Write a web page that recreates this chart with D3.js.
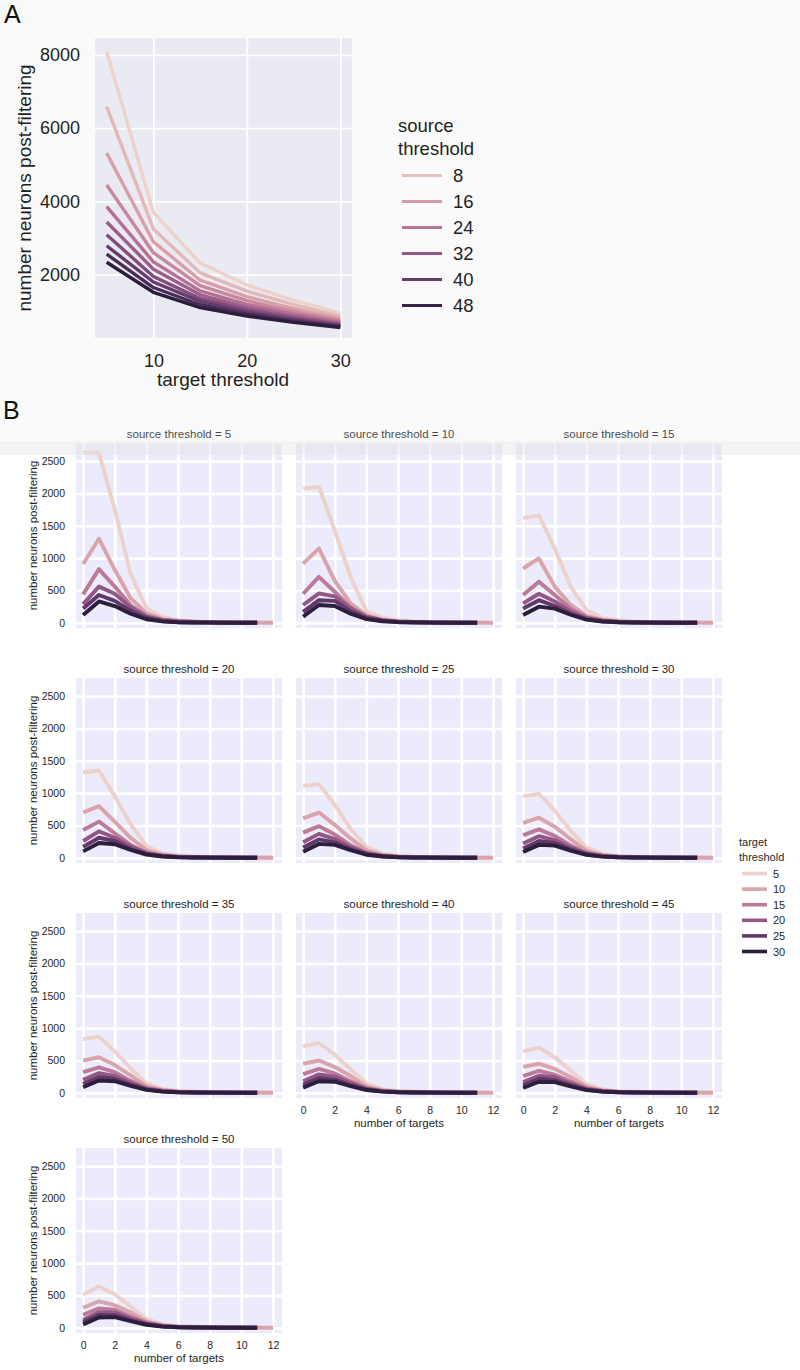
<!DOCTYPE html>
<html><head><meta charset="utf-8">
<script src="https://cdn.jsdelivr.net/npm/d3@7"></script>
<style>body{margin:0;background:#fff}</style>
</head><body><svg id="c" width="800" height="1370" xmlns="http://www.w3.org/2000/svg"></svg>
<script>
// ---------------- DATA ----------------
// Panel A: x = target threshold, one line per source threshold
const targetThresholdsA = [5, 10, 15, 20, 25, 30];
const sourceThresholds = [5, 10, 15, 20, 25, 30, 35, 40, 45, 50];
const neuronsA_st5  = [8090, 3700, 2320, 1720, 1300, 950];
const neuronsA_st10 = [6590, 3250, 2050, 1550, 1180, 870];
const neuronsA_st15 = [5320, 2900, 1850, 1400, 1070, 800];
const neuronsA_st20 = [4450, 2600, 1700, 1290, 990, 750];
const neuronsA_st25 = [3860, 2350, 1560, 1190, 920, 710];
const neuronsA_st30 = [3440, 2150, 1450, 1110, 860, 670];
const neuronsA_st35 = [3090, 1950, 1350, 1040, 810, 640];
const neuronsA_st40 = [2790, 1800, 1270, 980, 770, 610];
const neuronsA_st45 = [2560, 1650, 1180, 920, 730, 585];
const neuronsA_st50 = [2340, 1520, 1100, 870, 700, 560];
const panelA = [neuronsA_st5, neuronsA_st10, neuronsA_st15, neuronsA_st20, neuronsA_st25,
                neuronsA_st30, neuronsA_st35, neuronsA_st40, neuronsA_st45, neuronsA_st50];
const legendTicksA = [8, 16, 24, 32, 40, 48];
const xTicksA = [10, 20, 30];
const yTicksA = [2000, 4000, 6000, 8000];

// Panel B: x = number of targets (0,1,2,...), one line per target threshold, one facet per source threshold
const targetThresholds = [5, 10, 15, 20, 25, 30];
const facet_st5 = [
  [2630, 2630, 1750, 760, 230, 90, 45, 25, 15, 10, 6, 4, 2],
  [910, 1300, 820, 380, 150, 60, 30, 18, 11, 7, 5, 3, 2],
  [440, 830, 560, 270, 110, 48, 24, 14, 9, 6, 4, 3],
  [290, 560, 450, 240, 95, 42, 20, 12, 8, 5, 3, 2],
  [220, 430, 340, 185, 75, 25, 10, 6, 4, 3, 2, 1],
  [120, 330, 260, 140, 55, 23, 10, 5, 3, 2, 1, 1]];
const facet_st10 = [
  [2075, 2100, 1430, 710, 180, 80, 40, 22, 14, 9, 6, 4, 2],
  [915, 1150, 650, 300, 120, 50, 25, 15, 10, 6, 4, 3, 2],
  [450, 710, 480, 240, 95, 42, 21, 12, 8, 5, 3, 2],
  [275, 455, 410, 225, 90, 40, 19, 11, 7, 5, 3, 2],
  [170, 350, 340, 180, 75, 32, 14, 8, 5, 3, 2, 1],
  [95, 275, 260, 140, 57, 24, 10, 5, 3, 2, 1, 1]];
const facet_st15 = [
  [1620, 1660, 1150, 560, 200, 75, 38, 22, 14, 9, 6, 4, 2],
  [840, 995, 560, 280, 110, 48, 24, 14, 9, 6, 4, 3, 2],
  [430, 635, 430, 220, 85, 38, 19, 11, 7, 5, 3, 2],
  [300, 450, 330, 180, 75, 34, 16, 9, 6, 4, 3, 2],
  [220, 350, 260, 140, 58, 24, 10, 6, 4, 3, 2, 1],
  [120, 250, 220, 125, 50, 21, 9, 5, 3, 2, 1, 1]];
const facet_st20 = [
  [1320, 1350, 950, 520, 180, 70, 35, 20, 13, 9, 6, 4, 2],
  [700, 800, 560, 310, 120, 50, 24, 14, 9, 6, 4, 3, 2],
  [430, 560, 380, 200, 80, 35, 17, 10, 7, 5, 3, 2],
  [260, 410, 310, 175, 73, 32, 15, 9, 6, 4, 3, 2],
  [170, 310, 260, 140, 60, 26, 11, 6, 4, 3, 2, 1],
  [100, 230, 210, 122, 50, 21, 9, 5, 3, 2, 1, 1]];
const facet_st25 = [
  [1110, 1140, 820, 450, 170, 65, 32, 19, 12, 8, 5, 3, 2],
  [610, 700, 510, 300, 115, 48, 23, 14, 9, 6, 4, 3, 2],
  [390, 490, 360, 195, 78, 34, 16, 10, 6, 4, 3, 2],
  [240, 370, 290, 165, 70, 30, 14, 8, 5, 4, 3, 2],
  [160, 285, 240, 135, 57, 24, 10, 6, 4, 3, 2, 1],
  [95, 215, 200, 118, 48, 20, 8, 5, 3, 2, 1, 1]];
const facet_st30 = [
  [950, 990, 730, 420, 160, 62, 30, 18, 12, 8, 5, 3, 2],
  [540, 620, 480, 290, 110, 46, 22, 13, 9, 6, 4, 3, 2],
  [350, 440, 340, 190, 76, 33, 16, 10, 6, 4, 3, 2],
  [220, 335, 275, 160, 68, 29, 14, 8, 5, 4, 3, 2],
  [145, 260, 230, 130, 55, 23, 10, 6, 4, 3, 2, 1],
  [90, 200, 190, 112, 46, 19, 8, 5, 3, 2, 1, 1]];
const facet_st35 = [
  [830, 870, 640, 380, 150, 60, 30, 18, 11, 8, 5, 3, 2],
  [500, 550, 430, 270, 105, 44, 21, 13, 8, 5, 4, 3, 2],
  [320, 395, 320, 185, 74, 32, 15, 9, 6, 4, 3, 2],
  [200, 305, 260, 155, 66, 28, 13, 8, 5, 4, 3, 2],
  [135, 245, 215, 125, 53, 22, 9, 5, 4, 3, 2, 1],
  [85, 190, 180, 108, 45, 19, 8, 4, 3, 2, 1, 1]];
const facet_st40 = [
  [720, 770, 590, 360, 145, 58, 28, 17, 11, 7, 5, 3, 2],
  [450, 500, 400, 260, 100, 42, 20, 12, 8, 5, 4, 3, 2],
  [290, 370, 300, 180, 72, 31, 15, 9, 6, 4, 3, 2],
  [180, 285, 250, 150, 64, 27, 13, 8, 5, 4, 3, 2],
  [125, 230, 205, 120, 52, 22, 9, 5, 4, 3, 2, 1],
  [80, 180, 172, 104, 43, 18, 8, 4, 3, 2, 1, 1]];
const facet_st45 = [
  [640, 700, 550, 340, 140, 55, 27, 16, 10, 7, 5, 3, 2],
  [400, 450, 370, 245, 95, 40, 19, 12, 8, 5, 4, 3, 2],
  [260, 340, 280, 175, 70, 30, 15, 9, 6, 4, 3, 2],
  [165, 265, 240, 145, 62, 26, 12, 7, 5, 4, 3, 2],
  [115, 218, 195, 117, 50, 21, 9, 5, 4, 3, 2, 1],
  [75, 172, 165, 100, 42, 18, 8, 4, 3, 2, 1, 1]];
const facet_st50 = [
  [515, 640, 520, 330, 135, 55, 27, 16, 10, 7, 5, 3, 2],
  [310, 410, 350, 240, 100, 42, 20, 12, 8, 5, 4, 3, 2],
  [200, 300, 280, 175, 80, 32, 15, 9, 6, 4, 3, 2],
  [120, 240, 235, 145, 70, 28, 13, 7, 5, 4, 3, 2],
  [85, 200, 195, 120, 55, 23, 10, 5, 4, 3, 2, 1],
  [50, 160, 165, 105, 47, 19, 8, 4, 3, 2, 1, 1]];
const facets = [facet_st5, facet_st10, facet_st15, facet_st20, facet_st25,
                facet_st30, facet_st35, facet_st40, facet_st45, facet_st50];
const xTicksB = [0, 2, 4, 6, 8, 10, 12];
const yTicksB = [0, 500, 1000, 1500, 2000, 2500];

// ---------------- HELPERS ----------------
const FONT = "'Liberation Sans', Arial, Helvetica, sans-serif";
const TXT = "#1f1f1f";
// seaborn cubehelix_palette(as_cmap=True): start=0, rot=.4, gamma=1, hue=.8, light=.85, dark=.15
function helix(v, lo, hi) {
  const t = (v - lo) / (hi - lo);
  const x = 0.85 + (0.15 - 0.85) * t;
  const a = 0.8 * x * (1 - x) / 2;
  const phi = 2 * Math.PI * (0.4 * x);
  const c = Math.cos(phi), s = Math.sin(phi);
  const cl = u => Math.max(0, Math.min(1, u)) * 255;
  const r = x + a * (-0.14861 * c + 1.78277 * s);
  const g = x + a * (-0.29227 * c - 0.90649 * s);
  const b = x + a * (1.97294 * c);
  return d3.rgb(cl(r), cl(g), cl(b)).formatHex();
}

const svg = d3.select("#c");
svg.append("rect").attr("width", 800).attr("height", 1370).attr("fill", "#fff");

// ---------------- PANEL B ----------------
const gB = svg.append("g");
const colLeft = [76, 296, 516], rowTop = 443, rowStep = 235, W = 206, H = 185;
facets.forEach((facet, i) => {
  const col = i % 3, row = Math.floor(i / 3);
  const L = colLeft[col], T = rowTop + rowStep * row;
  const x = d3.scaleLinear().domain([-0.45, 12.57]).range([L, L + W]);
  const y = d3.scaleLinear().domain([-80, 2780]).range([T + H, T]);
  const g = gB.append("g");
  g.append("rect").attr("x", L).attr("y", T).attr("width", W).attr("height", H).attr("fill", "#ebebfb");
  const ya = g.append("g").attr("transform", `translate(${L},0)`)
    .call(d3.axisLeft(y).tickValues(yTicksB).tickSize(-W).tickPadding(11).tickFormat(d3.format("d")));
  const xa = g.append("g").attr("transform", `translate(0,${T + H})`)
    .call(d3.axisBottom(x).tickValues(xTicksB).tickSize(-H).tickPadding(9).tickFormat(d3.format("d")));
  [ya, xa].forEach(a => {
    a.select(".domain").remove();
    a.selectAll("line").attr("stroke", "#fff").attr("stroke-width", 2.6);
    a.selectAll("text").attr("fill", TXT).style("font-family", FONT).style("font-size", "10.5px");
  });
  if (col !== 0) ya.selectAll("text").remove();
  const showX = (i >= 7);
  if (!showX) xa.selectAll("text").remove();
  const line = d3.line().x((d, k) => x(k)).y(d => y(d));
  facet.forEach((vals, j) => {
    g.append("path").datum(vals).attr("d", line).attr("fill", "none")
      .attr("stroke", helix(targetThresholds[j], 5, 30)).attr("stroke-width", 3.9)
      .attr("stroke-linejoin", "round");
  });
  g.append("text").attr("x", L + W / 2).attr("y", T - 5).attr("text-anchor", "middle")
    .attr("fill", TXT).style("font-family", FONT).style("font-size", "11.5px")
    .text(`source threshold = ${sourceThresholds[i]}`);
  if (col === 0) {
    g.append("text").attr("transform", `translate(37,${T + H / 2}) rotate(-90)`)
      .attr("text-anchor", "middle").attr("fill", TXT).style("font-family", FONT).style("font-size", "11.5px")
      .text("number neurons post-filtering");
  }
  if (showX) {
    g.append("text").attr("x", L + W / 2).attr("y", T + H + 29).attr("text-anchor", "middle")
      .attr("fill", TXT).style("font-family", FONT).style("font-size", "11.5px").text("number of targets");
  }
});
// legend B
const lgB = gB.append("g");
lgB.append("text").attr("x", 739).attr("y", 846).attr("fill", TXT).style("font-family", FONT).style("font-size", "11px").text("target");
lgB.append("text").attr("x", 739).attr("y", 861).attr("fill", TXT).style("font-family", FONT).style("font-size", "11px").text("threshold");
targetThresholds.forEach((t, j) => {
  const cy = 873.5 + 15.6 * j;
  lgB.append("line").attr("x1", 742).attr("x2", 767).attr("y1", cy).attr("y2", cy)
    .attr("stroke", helix(t, 5, 30)).attr("stroke-width", 3.6);
  lgB.append("text").attr("x", 773).attr("y", cy + 4).attr("fill", TXT)
    .style("font-family", FONT).style("font-size", "11px").text(t);
});

// faint grey band of the top figure image over the upper area
svg.append("rect").attr("x", 0).attr("y", 0).attr("width", 800).attr("height", 455)
  .attr("fill", "#e6e6e6").attr("opacity", 0.2);
svg.append("rect").attr("x", 0).attr("y", 441).attr("width", 800).attr("height", 14)
  .attr("fill", "#e6e6e6").attr("opacity", 0.35);

// ---------------- PANEL A ----------------
const gA = svg.append("g");
const xA = d3.scaleLinear().domain([3.75, 31.25]).range([95, 352]);
const yA = d3.scaleLinear().domain([272, 8462]).range([338, 38]);
gA.append("rect").attr("x", 95).attr("y", 38).attr("width", 257).attr("height", 300).attr("fill", "#eaeaf2");
const yaA = gA.append("g").attr("transform", "translate(95,0)")
  .call(d3.axisLeft(yA).tickValues(yTicksA).tickSize(-257).tickPadding(15).tickFormat(d3.format("d")));
const xaA = gA.append("g").attr("transform", "translate(0,338)")
  .call(d3.axisBottom(xA).tickValues(xTicksA).tickSize(-300).tickPadding(16).tickFormat(d3.format("d")));
[yaA, xaA].forEach(a => {
  a.select(".domain").remove();
  a.selectAll("line").attr("stroke", "#fff").attr("stroke-width", 1.8);
  a.selectAll("text").attr("fill", TXT).style("font-family", FONT).style("font-size", "18px");
});
const lineA = d3.line().x((d, k) => xA(targetThresholdsA[k])).y(d => yA(d));
panelA.forEach((vals, i) => {
  gA.append("path").datum(vals).attr("d", lineA).attr("fill", "none")
    .attr("stroke", helix(sourceThresholds[i], 5, 50)).attr("stroke-width", 3.4)
    .attr("stroke-linejoin", "round");
});
gA.append("text").attr("x", 223).attr("y", 386).attr("text-anchor", "middle").attr("fill", TXT)
  .style("font-family", FONT).style("font-size", "19px").text("target threshold");
gA.append("text").attr("transform", "translate(31,188) rotate(-90)").attr("text-anchor", "middle").attr("fill", TXT)
  .style("font-family", FONT).style("font-size", "19px").text("number neurons post-filtering");
// legend A
gA.append("text").attr("x", 398).attr("y", 132).attr("fill", TXT).style("font-family", FONT).style("font-size", "18.5px").text("source");
gA.append("text").attr("x", 398).attr("y", 155).attr("fill", TXT).style("font-family", FONT).style("font-size", "18.5px").text("threshold");
legendTicksA.forEach((t, j) => {
  const cy = 175.5 + 26 * j;
  gA.append("line").attr("x1", 402).attr("x2", 442).attr("y1", cy).attr("y2", cy)
    .attr("stroke", helix(t, 5, 50)).attr("stroke-width", 3);
  gA.append("text").attr("x", 453).attr("y", cy + 6.5).attr("fill", TXT)
    .style("font-family", FONT).style("font-size", "18.5px").text(t);
});

// panel letters
svg.append("text").attr("x", 4).attr("y", 23).attr("fill", "#111").style("font-family", FONT)
  .style("font-size", "25px").text("A");
svg.append("text").attr("x", 3).attr("y", 419).attr("fill", "#111").style("font-family", FONT)
  .style("font-size", "25px").text("B");
</script></body></html>
